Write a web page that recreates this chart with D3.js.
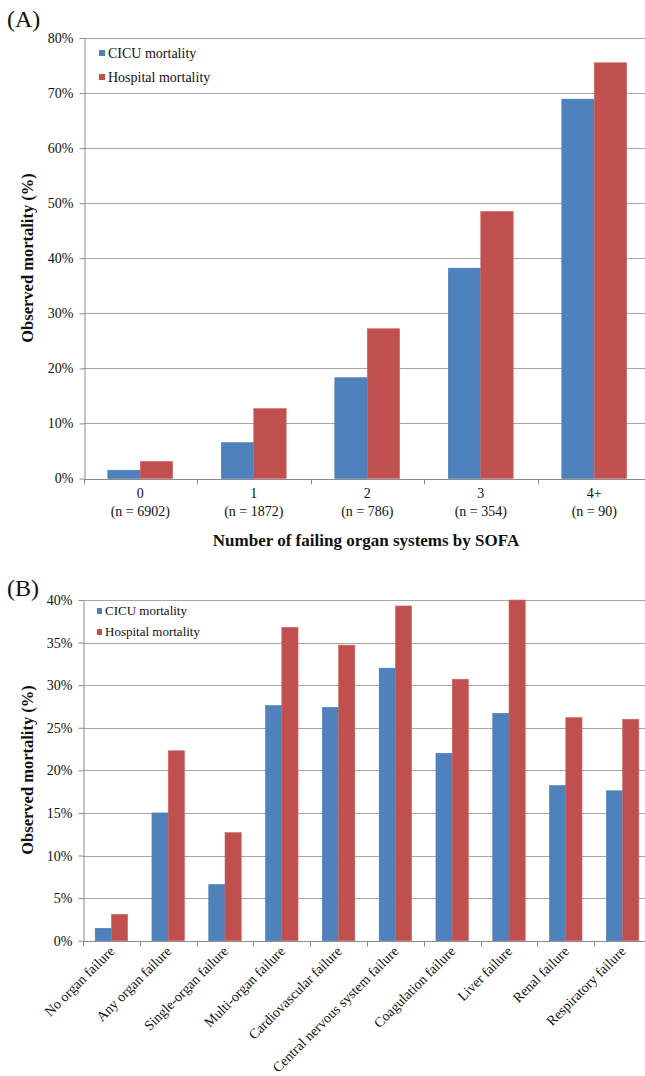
<!DOCTYPE html>
<html>
<head>
<meta charset="utf-8">
<script src="https://cdn.jsdelivr.net/npm/d3@7"></script>
<style>
  html, body { margin: 0; padding: 0; background: #fff; }
  svg { display: block; }
  svg text { font-family: "Liberation Serif", "Times New Roman", serif; }
</style>
</head>
<body>
<svg id="chart" width="645" height="1076"></svg>
<script>
// Panel A: mortality by number of failing organ systems
const sofaGroups = ["0", "1", "2", "3", "4+"];
const sofaCounts = ["(n = 6902)", "(n = 1872)", "(n = 786)", "(n = 354)", "(n = 90)"];
const sofaCicu = [1.5, 6.5, 18.3, 38.2, 68.9];
const sofaHospital = [3.1, 12.7, 27.2, 48.5, 75.5];
const panelATicks = [0, 10, 20, 30, 40, 50, 60, 70, 80];

// Panel B: mortality by type of organ failure
const failureTypes = [
  "No organ failure", "Any organ failure", "Single-organ failure", "Multi-organ failure",
  "Cardiovascular failure", "Central nervous system failure", "Coagulation failure",
  "Liver failure", "Renal failure", "Respiratory failure"
];
const failureCicu = [1.45, 15.0, 6.6, 27.6, 27.4, 32.0, 22.0, 26.7, 18.2, 17.6];
const failureHospital = [3.1, 22.3, 12.7, 36.8, 34.7, 39.3, 30.7, 40.0, 26.2, 26.0];
const panelBTicks = [0, 5, 10, 15, 20, 25, 30, 35, 40];

const seriesNames = ["CICU mortality", "Hospital mortality"];
const seriesColors = ["#4f81bd", "#c0504d"];
const seriesStroke = ["#4a7ab5", "#d06a67"];

const svg = d3.select("#chart");

function drawPanel(opts) {
  const { letter, letterY, top, bottom, left, right, categories, values, ticks, yMax } = opts;
  const g = svg.append("g");

  const x = d3.scaleBand().domain(categories).range([left, right]).paddingInner(0).paddingOuter(0);
  const y = d3.scaleLinear().domain([0, yMax]).range([bottom, top]);
  // gap width 150%: the two bars together fill 2/(2+1.5) of each category
  const barW = x.bandwidth() / 3.5;
  const offset = (x.bandwidth() - 2 * barW) / 2;

  // gridlines
  g.append("g").selectAll("line").data(ticks.filter(t => t > 0)).join("line")
    .attr("x1", left).attr("x2", right)
    .attr("y1", d => Math.round(y(d)) + 0.5).attr("y2", d => Math.round(y(d)) + 0.5)
    .attr("stroke", "#a6a6a6").attr("stroke-width", 1.2);

  // bars
  values.forEach((vals, si) => {
    g.append("g").selectAll("rect").data(vals).join("rect")
      .attr("x", (d, i) => x(categories[i]) + offset + si * barW)
      .attr("y", d => y(d))
      .attr("width", barW)
      .attr("height", d => y(0) - y(d))
      .attr("fill", seriesColors[si])
      .attr("stroke", seriesStroke[si]).attr("stroke-width", 0.6);
  });

  // y axis
  const yAxis = d3.axisLeft(y).tickValues(ticks).tickFormat(d => d + "%").tickSize(5).tickSizeOuter(0);
  const ya = g.append("g").attr("transform", `translate(${Math.round(left) + 0.5},0)`).call(yAxis);
  ya.select(".domain").attr("stroke", "#8c8c8c");
  ya.selectAll(".tick line").attr("stroke", "#8c8c8c");
  ya.selectAll(".tick text").attr("font-size", 14).attr("fill", "#111")
    .attr("font-family", "Liberation Serif").attr("dx", -3);

  // x axis line with ticks at category boundaries
  const yb = Math.round(y(0)) + 0.5;
  g.append("line").attr("x1", left).attr("x2", right).attr("y1", yb).attr("y2", yb).attr("stroke", "#8c8c8c");
  const bounds = categories.map(c => x(c)).concat([right]);
  g.append("g").selectAll("line").data(bounds).join("line")
    .attr("x1", d => Math.round(d) + 0.5).attr("x2", d => Math.round(d) + 0.5)
    .attr("y1", yb).attr("y2", yb + 5).attr("stroke", "#8c8c8c");

  // panel letter
  g.append("text").attr("x", 7).attr("y", letterY).attr("font-size", 24).attr("fill", "#111").text(letter);

  return { g, x, y };
}

// ---- Panel A ----
const A = drawPanel({
  letter: "(A)", letterY: 27, top: 38, bottom: 478.5, left: 83.5, right: 651,
  categories: sofaGroups, values: [sofaCicu, sofaHospital], ticks: panelATicks, yMax: 80
});
A.g.append("g").selectAll("text").data(sofaGroups).join("text")
  .attr("x", d => A.x(d) + A.x.bandwidth() / 2).attr("y", 498)
  .attr("text-anchor", "middle").attr("font-size", 14).attr("fill", "#111").text(d => d);
A.g.append("g").selectAll("text").data(sofaCounts).join("text")
  .attr("x", (d, i) => A.x(sofaGroups[i]) + A.x.bandwidth() / 2).attr("y", 516)
  .attr("text-anchor", "middle").attr("font-size", 14).attr("fill", "#111").text(d => d);
A.g.append("text").attr("x", 366).attr("y", 546).attr("text-anchor", "middle")
  .attr("font-size", 17).attr("font-weight", "bold").attr("fill", "#111")
  .text("Number of failing organ systems by SOFA");
A.g.append("text").attr("transform", "translate(33,258) rotate(-90)").attr("text-anchor", "middle")
  .attr("font-size", 16.5).attr("font-weight", "bold").attr("fill", "#111").text("Observed mortality (%)");

// legend A
seriesNames.forEach((name, i) => {
  A.g.append("rect").attr("x", 99).attr("y", 50 + i * 24).attr("width", 6).attr("height", 6).attr("fill", seriesColors[i]);
  A.g.append("text").attr("x", 108).attr("y", 58 + i * 24).attr("font-size", 14).attr("fill", "#111").text(name);
});

// ---- Panel B ----
const B = drawPanel({
  letter: "(B)", letterY: 596, top: 600, bottom: 940.7, left: 83, right: 651,
  categories: failureTypes, values: [failureCicu, failureHospital], ticks: panelBTicks, yMax: 40
});
B.g.append("g").selectAll("text").data(failureTypes).join("text")
  .attr("transform", d => `translate(${B.x(d) + B.x.bandwidth() / 2 + 4},${952}) rotate(-45)`)
  .attr("text-anchor", "end").attr("font-size", 14).attr("fill", "#111").text(d => d);
B.g.append("text").attr("transform", "translate(33,770) rotate(-90)").attr("text-anchor", "middle")
  .attr("font-size", 16.5).attr("font-weight", "bold").attr("fill", "#111").text("Observed mortality (%)");

// legend B
seriesNames.forEach((name, i) => {
  B.g.append("rect").attr("x", 97).attr("y", 608 + i * 21).attr("width", 5).attr("height", 6).attr("fill", seriesColors[i]);
  B.g.append("text").attr("x", 105).attr("y", 615 + i * 21).attr("font-size", 13).attr("fill", "#111").text(name);
});
</script>
</body>
</html>
